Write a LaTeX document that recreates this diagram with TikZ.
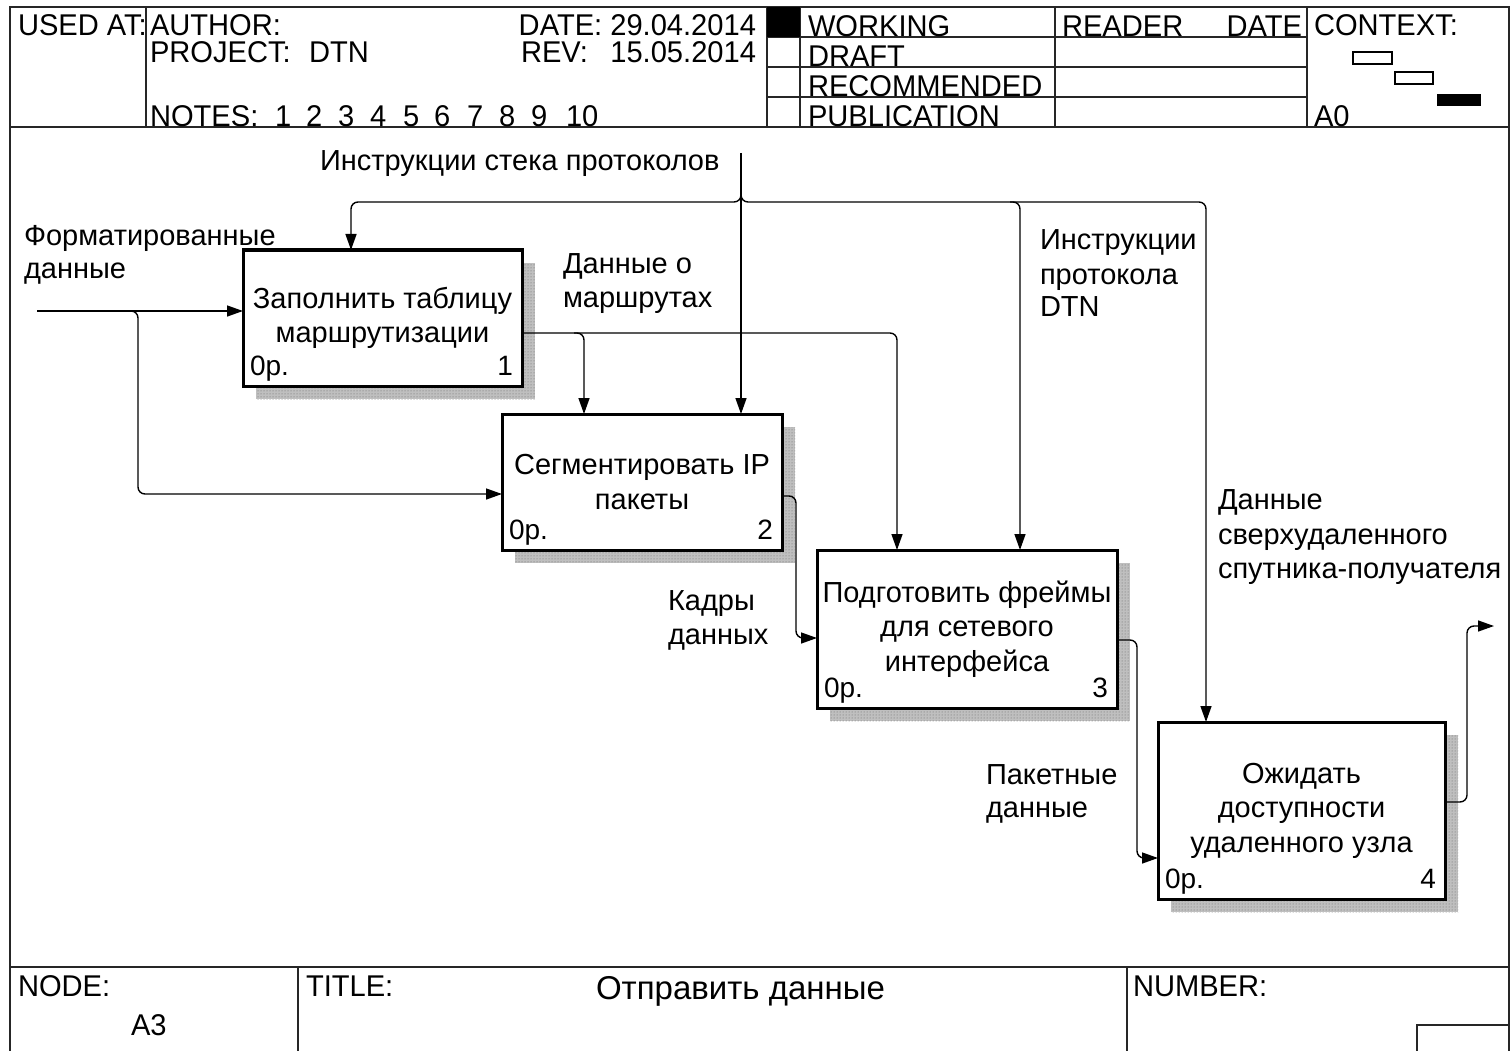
\documentclass[tikz,border=0pt]{standalone}
\usepackage{fontspec}
\setmainfont{Liberation Sans}
\newfontfamily\hdrfont[FakeStretch=0.97]{Liberation Sans}
\usetikzlibrary{arrows.meta,patterns}
\begin{document}
\begin{tikzpicture}[x=1pt,y=-1pt,
  every node/.style={inner sep=0pt, outer sep=0pt},
  frame/.style={line width=1.4pt, draw=black!85},
  fbox/.style={draw, line width=3pt, fill=white, align=center,
    font=\fontsize{29}{34.5}\selectfont},
  shadowbox/.style={fill=black!25, draw=none},
  shadowdots/.style={pattern=dots, pattern color=black!60, draw=none},
  conn/.style={line width=1.4pt, rounded corners=7pt},
  arr/.style={conn, -{Triangle[length=16pt,width=11pt]}},
  lbl/.style={font=\fontsize{29}{34}\selectfont, anchor=base west},
  hd/.style={font=\hdrfont\fontsize{30}{30}\selectfont, anchor=base west},
  corner/.style={font=\fontsize{28}{30}\selectfont},
]
\useasboundingbox (0,0) rectangle (1510,1051);

% ---------- frame ----------
\draw[frame] (10,1051) -- (10,7) -- (1509,7) -- (1509,1051);
\draw[frame] (10,127) -- (1509,127);
\draw[frame] (10,967) -- (1509,967);
\draw[frame] (146,7) -- (146,127);
\draw[frame] (767,7) -- (767,127);
\draw[frame] (800,7) -- (800,127);
\draw[frame] (1055,7) -- (1055,127);
\draw[frame] (1307,7) -- (1307,127);
\draw[frame] (767,37) -- (1307,37);
\draw[frame] (767,67) -- (1307,67);
\draw[frame] (767,97) -- (1307,97);
\fill[black] (767,7) rectangle (800,37);
\draw[line width=1.2pt] (1353,52) rectangle (1392,64);
\draw[line width=1.2pt] (1395,72) rectangle (1433,84);
\fill[black] (1437,94) rectangle (1481,106);
\draw[frame] (298,967) -- (298,1051);
\draw[frame] (1127,967) -- (1127,1051);
\draw[frame] (1417,1051) -- (1417,1025) -- (1509,1025);

% ---------- header text ----------
\node[hd] (usedat) at (18,36) {USED AT:};
\node[hd] (author) at (150,36) {AUTHOR:};
\node[hd] (project) at (150,63) {PROJECT:};
\node[hd] (projv) at (309,63) {DTN};
\node[hd] (notes) at (150,127) {NOTES:};
\foreach \n/\xx in {1/275,2/306,3/338,4/370,5/403,6/434,7/467,8/499,9/531,10/566}
  \node[hd] (note\n) at (\xx,127) {\n};
\node[hd, anchor=base east] (date) at (756,36) {DATE: 29.04.2014};
\node[hd] (rev) at (521,63) {REV:};
\node[hd, anchor=base east] (revv) at (756,63) {15.05.2014};
\node[hd] (working) at (808,37) {WORKING};
\node[hd] (draft) at (808,67) {DRAFT};
\node[hd] (recom) at (808,97) {RECOMMENDED};
\node[hd] (publ) at (808,127) {PUBLICATION};
\node[hd] (reader) at (1062,37) {READER};
\node[hd, anchor=base east] (rdate) at (1302,37) {DATE};
\node[hd] (context) at (1314,36) {CONTEXT:};
\node[hd] (a0) at (1314,127) {A0};

% ---------- footer text ----------
\node[hd] (node) at (18,996) {NODE:};
\node[hd] (nodev) at (131,1035) {A3};
\node[hd] (title) at (306,996) {TITLE:};
\node[font=\fontsize{33}{33}\selectfont, anchor=base west] (titlev) at (596,999) {Отправить данные};
\node[hd] (number) at (1133,996) {NUMBER:};

% ---------- shadows ----------
\fill[shadowbox] (256,263) rectangle (535,399);
\fill[shadowdots] (256,263) rectangle (535,399);
\fill[shadowbox] (515,427) rectangle (795,563);
\fill[shadowdots] (515,427) rectangle (795,563);
\fill[shadowbox] (830,563) rectangle (1130,721);
\fill[shadowdots] (830,563) rectangle (1130,721);
\fill[shadowbox] (1171,735) rectangle (1458,912);
\fill[shadowdots] (1171,735) rectangle (1458,912);

% ---------- boxes ----------
\node[fbox, minimum width=279pt, minimum height=136pt] (b1) at (382.5,318)
  {Заполнить таблицу\\маршрутизации};
\node[fbox, minimum width=280pt, minimum height=136pt] (b2) at (642,482)
  {Сегментировать IP\\пакеты};
\node[fbox, minimum width=300pt, minimum height=158pt] (b3) at (967,629)
  {Подготовить фреймы\\для сетевого\\интерфейса};
\node[fbox, minimum width=287pt, minimum height=177pt] (b4) at (1301.5,810.5)
  {Ожидать\\доступности\\удаленного узла};

\foreach \b/\k in {b1/1,b2/2,b3/3,b4/4}{
  \node[corner, anchor=base west] (\b cost) at ([shift={(7,-11)}]\b.south west) {0р.};
  \node[corner, anchor=base east] (\b num) at ([shift={(-9,-11)}]\b.south east) {\k};
}

% ---------- connectors ----------
% input
\coordinate (in1) at (37,311);
\draw[arr] (in1) -- (in1 -| b1.west);
\draw[arr] (128,311) -- (138,311) -- (138,494) -- (138,494 -| b2.west);

% control: protocol stack instructions
\coordinate (c0) at (741,153);
\draw[arr] (c0) -- (c0 |- b2.north);
\draw[arr] (741,190) |- (351,202) -- (351,202 |- b1.north);
\draw[arr] (741,190) |- (1206,202) -- (1206,202 |- b4.north);
\draw[arr] (1010,202) -- (1020,202) -- (1020,202 |- b3.north);

% output of box 1
\draw[arr] (b1.east |- 0,333) -- (897,333) -- (897,333 |- b3.north);
\draw[arr] (574,333) -- (584,333) -- (584,333 |- b2.north);

% output of box 2
\draw[arr] (b2.east |- 0,496) -- (796,496) -- (796,638) -- (796,638 -| b3.west);
% output of box 3
\draw[arr] (b3.east |- 0,640) -- (1137,640) -- (1137,858) -- (1137,858 -| b4.west);
% output of box 4
\coordinate (out4) at (1494,626);
\draw[arr] (b4.east |- 0,802) -- (1467,802) -- (1467,626) -- (out4);

% ---------- labels ----------
\node[lbl] (l1) at (320,171) {Инструкции стека протоколов};
\node[lbl] (l2a) at (24,245) {Форматированные};
\node[lbl] (l2b) at (24,278) {данные};
\node[lbl] (l3a) at (563,273) {Данные о};
\node[lbl] (l3b) at (563,307) {маршрутах};
\node[lbl] (l4a) at (1040,249) {Инструкции};
\node[lbl] (l4b) at (1040,284) {протокола};
\node[lbl] (l4c) at (1040,316) {DTN};
\node[lbl] (l5a) at (1218,509) {Данные};
\node[lbl] (l5b) at (1218,544) {сверхудаленного};
\node[lbl] (l5c) at (1218,578) {спутника-получателя};
\node[lbl] (l6a) at (668,610) {Кадры};
\node[lbl] (l6b) at (668,644) {данных};
\node[lbl] (l7a) at (986,784) {Пакетные};
\node[lbl] (l7b) at (986,817) {данные};
\end{tikzpicture}
\end{document}
